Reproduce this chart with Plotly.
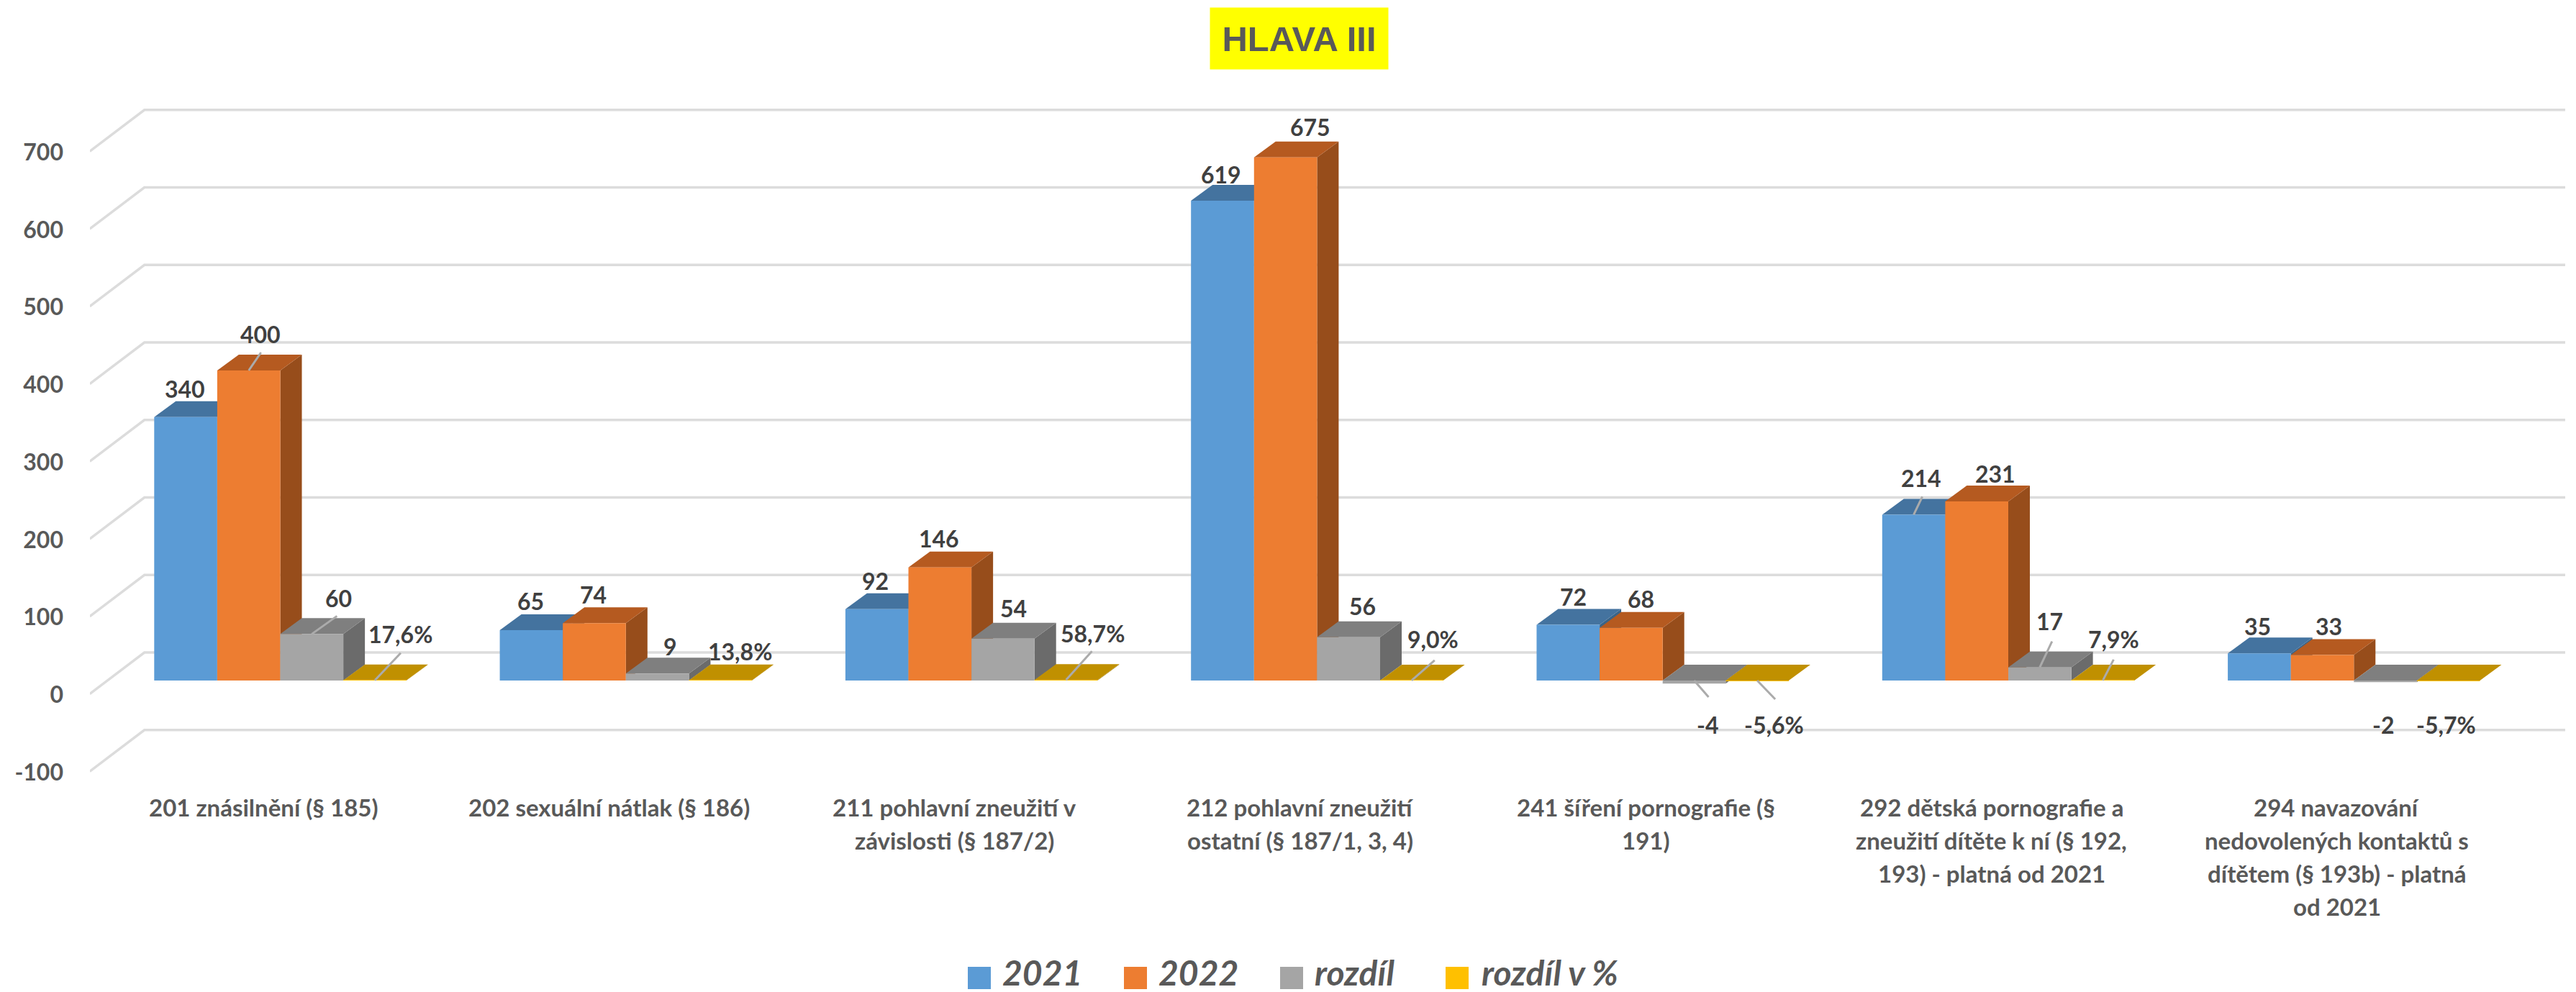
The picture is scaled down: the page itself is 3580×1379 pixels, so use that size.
#!/usr/bin/env python
import plotly.graph_objects as go

CATEGORIES = [
    ["201 znásilnění (§ 185)"],
    ["202 sexuální nátlak (§ 186)"],
    ["211 pohlavní zneužití v", "závislosti (§ 187/2)"],
    ["212 pohlavní zneužití", "ostatní (§ 187/1, 3, 4)"],
    ["241 šíření pornografie (§", "191)"],
    ["292 dětská pornografie a", "zneužití dítěte k ní (§ 192,", "193) - platná od 2021"],
    ["294 navazování", "nedovolených kontaktů s", "dítětem (§ 193b) - platná", "od 2021"],
]
SERIES_NAMES = ["2021", "2022", "rozdíl", "rozdíl v %"]
VALUES_2021 = [340, 65, 92, 619, 72, 214, 35]
VALUES_2022 = [400, 74, 146, 675, 68, 231, 33]
VALUES_DIFF = [60, 9, 54, 56, -4, 17, -2]
VALUES_PCT = [0.176, 0.138, 0.587, 0.090, -0.056, 0.079, -0.057]
PCT_LABELS = ["17,6%", "13,8%", "58,7%", "9,0%", "-5,6%", "7,9%", "-5,7%"]
AXIS_TICKS = [700, 600, 500, 400, 300, 200, 100, 0, -100]

SERIES = [VALUES_2021, VALUES_2022, VALUES_DIFF, VALUES_PCT]
FRONT = ["#5B9BD5", "#ED7D31", "#A5A5A5", "#FFC000"]
TOP = ["#44739F", "#B55A20", "#7F7F7F", "#C09000"]
SIDE = ["#3A6488", "#974D1B", "#6B6B6B", "#A07800"]
GRID = "#DCDCDC"
LEADER = "#ABABAB"

# pixel layout of the picture
W, H = 3580, 1379
PLOT_L, PLOT_R, PLOT_T, PLOT_B = 125, 3570, 140, 1085
X0_PX = 389.5     # centre of first group on the bar plane
CAT_PX = 480.3    # px per category
Y0_PX = 946       # value 0 on the bar plane
UNIT_PX = 1.0775  # px per value unit
BAR_W = 0.1824    # bar width in categories
DEPTH_X, DEPTH_Y = 30, 22  # bar depth in px
WALL_FRONT_X, WALL_FRONT_Y = -24.5, -18.6  # left wall, from bar plane to front
WALL_BACK_X, WALL_BACK_Y = 51.5, 39


def to_x(px):
    return (px - X0_PX) / CAT_PX


def to_y(py):
    return (Y0_PX - py) / UNIT_PX


def paper_x(px):
    return (px - PLOT_L) / (PLOT_R - PLOT_L)


def paper_y(py):
    return (PLOT_B - py) / (PLOT_B - PLOT_T)


# label offset from the top centre of the front face, px: series -> one per category
LABEL_SHIFT = [
    [(-1, -39), (-1, -40), (-2, -39), (-2, -37), (7, -39), (10, -51), (-2, -38)],
    [(16, -51), (-2, -40), (-1, -40), (34, -42), (14, -40), (26, -39), (9, -40)],
    [(37, -50), (18, -38), (15, -42), (19, -43), (19, 61), (14, -64), (-3, 61)],
    [(36, -64), (27, -40), (37, -65), (30, -57), (23, 61), (15, -57), (-3, 61)],
]
# leader line (series, category, dx, dy)
LEADERS = [
    (1, 0, 17, -25), (2, 0, 35, -25), (3, 0, 36, -38), (3, 2, 36, -40), (3, 3, 32, -28),
    (0, 5, 12, -25), (2, 5, 17, -36), (3, 5, 15, -29), (2, 4, 20, 23), (3, 4, 25, 26),
]

LEGEND_SWATCH = [1345, 1562, 1779, 2009]
LEGEND_TEXT = [1391, 1608, 1825, 2057]

fig = go.Figure()

for s, values in enumerate(SERIES):
    fig.add_trace(go.Bar(
        x=list(range(len(values))), y=values, name=SERIES_NAMES[s],
        marker=dict(color=FRONT[s], line=dict(width=0)), showlegend=False,
    ))

shapes = []

# gridlines: front of the left wall -> back of it -> along the back wall
for tick in AXIS_TICKS:
    x_f, y_f = to_x(X0_PX - 240.3 + WALL_FRONT_X), tick + WALL_FRONT_Y / UNIT_PX
    x_b, y_b = to_x(X0_PX - 240.3 + WALL_BACK_X), tick + WALL_BACK_Y / UNIT_PX
    x_r = to_x(3565)
    shapes.append(dict(type="path", xref="x", yref="y", layer="below",
                       path=f"M{x_f},{y_f} L{x_b},{y_b} L{x_r},{y_b}",
                       line=dict(color=GRID, width=3.5)))


def face(points, color):
    path = "M" + " L".join(f"{x},{y}" for x, y in points) + " Z"
    return dict(type="path", xref="x", yref="y", layer="below", path=path,
                fillcolor=color, line=dict(width=0))


# tops and sides of the bars, in series order so later ones cover earlier ones
ddx, ddy = DEPTH_X / CAT_PX, DEPTH_Y / UNIT_PX
for s, values in enumerate(SERIES):
    for g, v in enumerate(values):
        left = g - 2 * BAR_W + s * BAR_W
        right = left + BAR_W
        top, low = max(v, 0), min(v, 0)
        shapes.append(face([(right, low), (right + ddx, low + ddy),
                            (right + ddx, top + ddy), (right, top)], SIDE[s]))
        shapes.append(face([(left, top), (left + ddx, top + ddy),
                            (right + ddx, top + ddy), (right, top)], TOP[s]))

# leader lines go above the bars
for s, g, dx, dy in LEADERS:
    v = max(SERIES[s][g], 0)
    xc = g - 2 * BAR_W + (s + 0.5) * BAR_W
    shapes.append(dict(type="line", xref="x", yref="y", layer="above",
                       x0=xc, y0=v, x1=xc + dx / CAT_PX, y1=v - dy / UNIT_PX,
                       line=dict(color=LEADER, width=3)))

annotations = []

# data labels
for s, values in enumerate(SERIES):
    for g, v in enumerate(values):
        text = PCT_LABELS[g] if s == 3 else str(v)
        dx, dy = LABEL_SHIFT[s][g]
        annotations.append(dict(
            x=g - 2 * BAR_W + (s + 0.5) * BAR_W, y=max(v, 0), xref="x", yref="y",
            text=text, showarrow=False, xshift=dx, yshift=-dy,
            font=dict(family="Lato", size=32, color="#404040", weight="bold"),
        ))

# category labels, line by line because of the wide line spacing
for g, lines in enumerate(CATEGORIES):
    for k, line in enumerate(lines):
        annotations.append(dict(
            x=paper_x(366 + CAT_PX * g), y=paper_y(1122 + 46 * k), xref="paper", yref="paper",
            xanchor="center", yanchor="middle", text=line, showarrow=False,
            font=dict(family="Lato", size=33, color="#595959", weight="bold"),
        ))

# title with its yellow box
annotations.append(dict(
    x=paper_x(1805.5), y=paper_y(53.5), xref="paper", yref="paper",
    xanchor="center", yanchor="middle",
    text="<b>HLAVA III</b>", showarrow=False, width=245, height=83, bgcolor="#FFFF00",
    font=dict(family="Liberation Sans", size=49, color="#595959"),
))

# legend
for s, name in enumerate(SERIES_NAMES):
    shapes.append(dict(type="rect", xref="paper", yref="paper",
                       x0=paper_x(LEGEND_SWATCH[s]), x1=paper_x(LEGEND_SWATCH[s] + 32),
                       y0=paper_y(1375), y1=paper_y(1344),
                       fillcolor=FRONT[s], line=dict(width=0)))
    annotations.append(dict(
        x=paper_x(LEGEND_TEXT[s]), y=paper_y(1351), xref="paper", yref="paper",
        xanchor="left", yanchor="middle", height=52, text=f"<b><i>{name}</i></b>", showarrow=False,
        font=dict(family="Lato", size=48, color="#595959"),
    ))

fig.update_layout(
    width=W, height=H,
    margin=dict(l=PLOT_L, r=W - PLOT_R, t=PLOT_T, b=H - PLOT_B, autoexpand=False),
    paper_bgcolor="white", plot_bgcolor="rgba(0,0,0,0)",
    barmode="group", bargap=1 - 4 * BAR_W, bargroupgap=0,
    shapes=shapes, annotations=annotations,
    showlegend=False,
    xaxis=dict(range=[to_x(PLOT_L), to_x(PLOT_R)], showgrid=False, zeroline=False,
               showticklabels=False, ticks="", showline=False),
    yaxis=dict(range=[to_y(PLOT_B), to_y(PLOT_T)], showgrid=False, zeroline=False,
               showline=False, ticks="",
               tickmode="array",
               tickvals=[t + to_y(966) for t in AXIS_TICKS],
               ticktext=[str(t) for t in AXIS_TICKS],
               ticklabelstandoff=36,
               tickfont=dict(family="Lato", size=32, color="#595959", weight="bold")),
)

fig.write_html("out.html", config=dict(displayModeBar=False),
               post_script="document.body.style.margin='0';")
